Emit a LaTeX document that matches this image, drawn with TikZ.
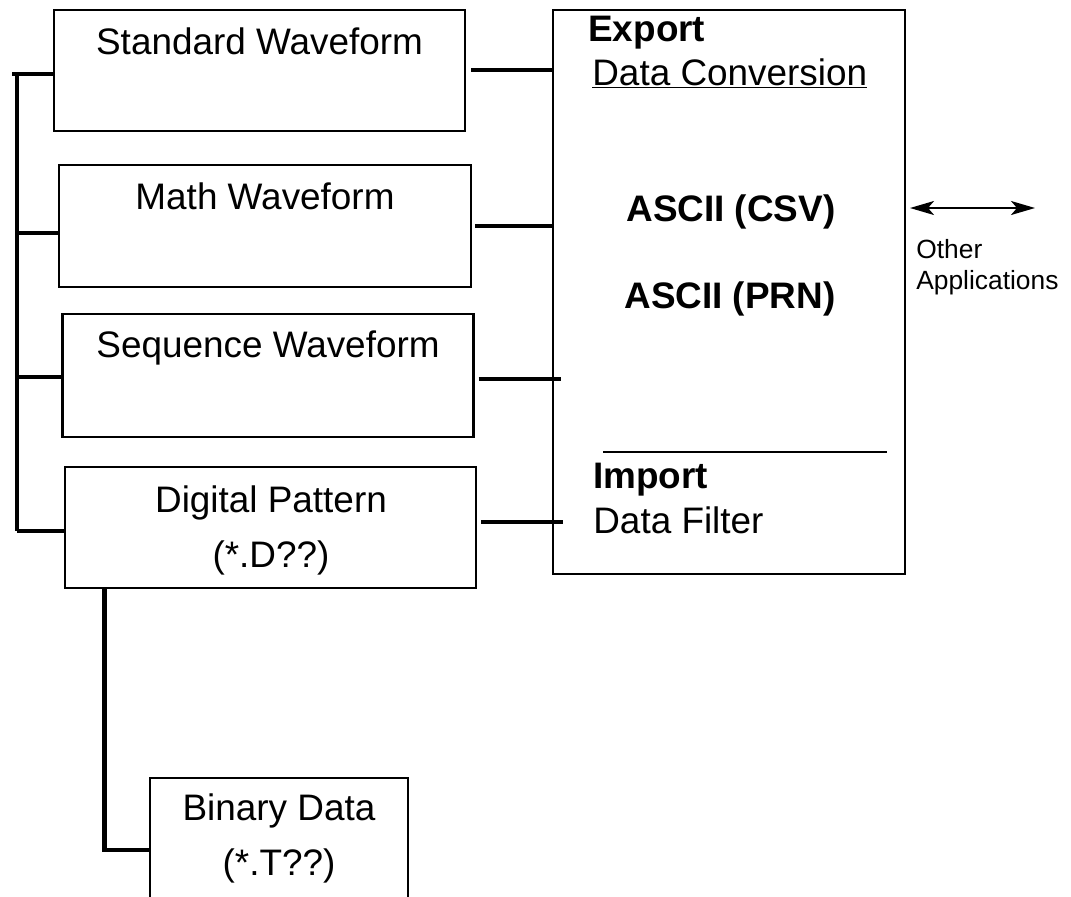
\documentclass[tikz,border=0pt]{standalone}
\usepackage{fontspec}
\setmainfont{Liberation Sans}
\usetikzlibrary{calc,arrows.meta}

\tikzset{
  filebox/.style={draw, line width=1.3pt, inner sep=0pt},
  wire/.style={line width=2.8pt},
  txt/.style={inner sep=0pt, font=\fontsize{21}{25}\selectfont},
  smalltxt/.style={inner sep=0pt, anchor=base west, font=\fontsize{15}{17}\selectfont}
}

\begin{document}
\begin{tikzpicture}[x=0.02cm, y=-0.02cm]
		\useasboundingbox (0,0) rectangle (1071,896);
		
		%%%%% FILE TYPES %%%%%
		\node[filebox, minimum width=8.22cm, minimum height=2.42cm] (std) at (259.5,70.5) {};
		\node[filebox, minimum width=8.24cm, minimum height=2.44cm] (math) at (265,226) {};
		\node[filebox, minimum width=8.22cm, minimum height=2.46cm] (seq) at (268,375.5) {};
		\node[filebox, minimum width=8.22cm, minimum height=2.42cm] (dig) at (270.5,527.5) {};
		\node[filebox, minimum width=5.16cm, minimum height=2.88cm] (bin) at (279,850) {};
		
		\node[txt, anchor=base] (stdname) at (259.5,54) {Standard Waveform};
		\node[txt, anchor=base] (mathname) at (265,209) {Math Waveform};
		\node[txt, anchor=base] (seqname) at (268,357) {Sequence Waveform};
		\node[txt, anchor=base] (digname) at (271,512) {Digital Pattern};
		\node[txt, anchor=base] (digext) at (271,567) {(*.D??)};
		\node[txt, anchor=base] (binname) at (279,820) {Binary Data};
		\node[txt, anchor=base] (binext) at (279,875) {(*.T??)};
		
		%%%%% CONVERSION BOX %%%%%
		\node[filebox, minimum width=7.04cm, minimum height=11.28cm] (conv) at (729,292) {};
		
		\node[txt, anchor=base west, font=\fontsize{21}{25}\selectfont\bfseries] (export) at (588,41) {Export};
		\node[txt, anchor=base west] (dconv) at (592,85) {\underline{Data Conversion}};
		\node[txt, anchor=base west, font=\fontsize{21}{25}\selectfont\bfseries] (csv) at (626,221) {ASCII (CSV)};
		\node[txt, anchor=base west, font=\fontsize{21}{25}\selectfont\bfseries] (prn) at (624,308) {ASCII (PRN)};
		\draw[line width=1.1pt] (603,452) -- (887,452);
		\node[txt, anchor=base west, font=\fontsize{21}{25}\selectfont\bfseries] (import) at (593,488) {Import};
		\node[txt, anchor=base west] (dfilter) at (593,533) {Data Filter};
		
		%%%%% OTHER APPLICATIONS %%%%%
		\coordinate (appl) at (910,208);
		\coordinate (appr) at (1035,208);
		\draw[line width=1.2pt, {Stealth[length=0.48cm, width=0.28cm, inset=0.12cm]}-{Stealth[length=0.48cm, width=0.28cm, inset=0.12cm]}] (appl) -- (appr);
		\node[smalltxt] (other) at (916,258) {Other};
		\node[smalltxt] (apps) at (916,289) {Applications};
		
		%%%%% LEFT BUS %%%%%
		\coordinate (bustop) at (17,74);
		\coordinate (t2) at (17,233);
		\coordinate (t3) at (17,377);
		\coordinate (busbot) at (17,531);
		\draw[wire] (bustop) -- (busbot);
		\draw[wire] ($(bustop)+(-5,0)$) -- (bustop -| std.west);
		\draw[wire] (t2) -- (t2 -| math.west);
		\draw[wire] (t3) -- (t3 -| seq.west);
		\draw[wire] (busbot) -- (busbot -| dig.west);
		
		%%%%% TO CONVERSION %%%%%
		\coordinate (r1) at (553,70);
		\coordinate (r2) at (553,226);
		\coordinate (r3) at (561,379);
		\coordinate (r4) at (563,522);
		\draw[wire] ($(r1 -| std.east)+(5,0)$) -- (r1);
		\draw[wire] ($(r2 -| math.east)+(3,0)$) -- (r2);
		\draw[wire] ($(r3 -| seq.east)+(4,0)$) -- (r3);
		\draw[wire] ($(r4 -| dig.east)+(4,0)$) -- (r4);
		
		%%%%% BINARY LINK %%%%%
		\draw[wire] ($(dig.south west)+(41,0)$) |- (bin.west);
		
\end{tikzpicture}
\end{document}
